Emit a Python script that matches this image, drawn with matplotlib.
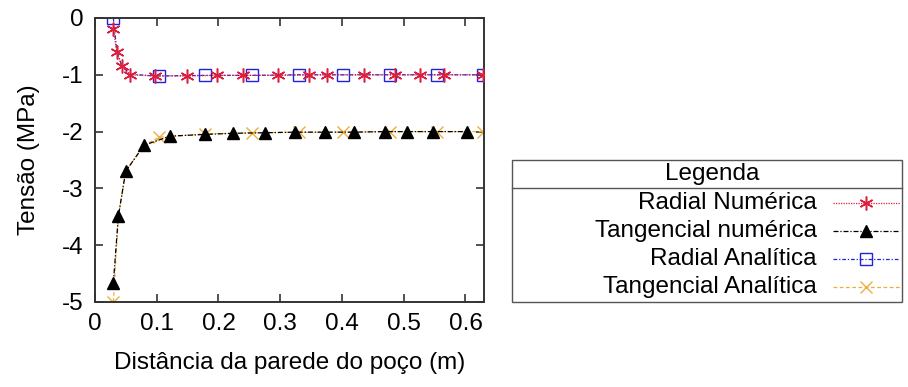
import numpy as np
import matplotlib
matplotlib.use("Agg")
import matplotlib.pyplot as plt
from matplotlib.lines import Line2D
from matplotlib.patches import Rectangle

plt.rcParams['font.family'] = ['Liberation Sans', 'DejaVu Sans']
plt.rcParams['axes.unicode_minus'] = False

# Radial numérica (red stars)
rad_num_x = [0.0297, 0.0352, 0.0433, 0.0567, 0.0972, 0.149, 0.197, 0.240, 0.297,
             0.346, 0.375, 0.435, 0.486, 0.527, 0.565, 0.629]
rad_num_y = [-0.19, -0.59, -0.85, -1.00, -1.02, -1.02, -1.01, -1.01, -1.01,
             -1.00, -1.00, -1.00, -1.00, -1.00, -1.00, -1.00]

# Tangencial numérica (black triangles)
tan_num_x = [0.0297, 0.0378, 0.0497, 0.0794, 0.1216, 0.178, 0.224, 0.276, 0.324,
             0.373, 0.419, 0.470, 0.505, 0.548, 0.602]
tan_num_y = [-4.67, -3.49, -2.70, -2.24, -2.08, -2.05, -2.03, -2.02, -2.01,
             -2.01, -2.01, -2.00, -2.00, -2.00, -2.00]

# Radial analítica (blue squares), curve points and marker points
rad_ana_x = [0.0297, 0.0352, 0.0433, 0.0567, 0.0972, 0.104, 0.178, 0.255, 0.330,
             0.402, 0.478, 0.554, 0.628]
rad_ana_y = [0.0, -0.57, -0.84, -0.99, -1.02, -1.02, -1.01, -1.01, -1.00,
             -1.00, -1.00, -1.00, -1.00]
rad_ana_marks = [0, 5, 6, 7, 8, 9, 10, 11, 12]

# Tangencial analítica (orange crosses)
tan_ana_x = [0.0297, 0.0378, 0.0497, 0.0794, 0.104, 0.178, 0.255, 0.330, 0.402,
             0.478, 0.554, 0.628]
tan_ana_y = [-5.00, -3.50, -2.70, -2.24, -2.10, -2.04, -2.02, -2.01, -2.01,
             -2.00, -2.00, -2.00]
tan_ana_marks = [0, 4, 5, 6, 7, 8, 9, 10, 11]

xticks = [0, 0.1, 0.2, 0.3, 0.4, 0.5, 0.6]
xticklabels = ['0', '0.1', '0.2', '0.3', '0.4', '0.5', '0.6']
yticks = [0, -1, -2, -3, -4, -5]
yticklabels = ['0', '-1', '-2', '-3', '-4', '-5']

labels = ['Radial Numérica', 'Tangencial numérica', 'Radial Analítica', 'Tangencial Analítica']

styles = [
    dict(color='#dc1f3c', linestyle=(0, (1, 1)), linewidth=0.9,
         marker=(6, 2, 0), markersize=10, markeredgewidth=1.1),
    dict(color='black', linestyle=(0, (4, 1.5, 1, 1.5)), linewidth=0.9,
         marker='^', markersize=9),
    dict(color='#2222dd', linestyle=(0, (3, 1.5, 1, 1.5)), linewidth=0.9,
         marker='s', markersize=8.5, markerfacecolor='none', markeredgewidth=1.0),
    dict(color='#eeae3a', linestyle=(0, (3, 2)), linewidth=0.9,
         marker='x', markersize=8.5, markeredgewidth=1.0),
]

FS = 17.5
W, H = 908, 387
fig = plt.figure(figsize=(W / 100, H / 100), dpi=100)
ax = fig.add_axes([95 / W, 1 - 302 / H, (484 - 95) / W, (302 - 18) / H])

ax.plot(tan_ana_x, tan_ana_y, markevery=tan_ana_marks, zorder=2, **styles[3])
ax.plot(tan_num_x, tan_num_y, zorder=3, **styles[1])
ax.plot(rad_ana_x, rad_ana_y, markevery=rad_ana_marks, zorder=2, **styles[2])
ax.plot(rad_num_x, rad_num_y, zorder=3, **styles[0])

ax.set_xlim(0, 0.63)
ax.set_ylim(-5, 0)
ax.set_xticks(xticks)
ax.set_xticklabels(xticklabels)
ax.set_yticks(yticks)
ax.set_yticklabels(yticklabels)
ax.tick_params(direction='in', length=6, width=1.2, top=True, right=True,
               labelsize=FS, pad=8, color='#333333')
for s in ax.spines.values():
    s.set_linewidth(1.4)
    s.set_color('#333333')

ax.set_xlabel('Distância da parede do poço (m)', fontsize=FS, labelpad=12)
ax.set_ylabel('Tensão (MPa)', fontsize=FS, labelpad=16)

# legend box drawn in figure pixels
def fx(x):
    return x / W

def fy(y):
    return 1 - y / H

fig.add_artist(Rectangle((fx(512), fy(302)), fx(902) - fx(512), fy(160) - fy(302),
                         transform=fig.transFigure, fill=False,
                         edgecolor='#555555', linewidth=1.0))
fig.add_artist(Line2D([fx(512), fx(902)], [fy(188), fy(188)],
                      transform=fig.transFigure, color='#555555', linewidth=1.0))
fig.text(fx(712), fy(174), 'Legenda', fontsize=FS, ha='center', va='center')

rows = [203, 231, 259, 287]
for lab, st, ry in zip(labels, styles, rows):
    fig.text(fx(817), fy(ry), lab, fontsize=FS, ha='right', va='center')
    fig.add_artist(Line2D([fx(833), fx(900)], [fy(ry), fy(ry)],
                          transform=fig.transFigure,
                          **{k: v for k, v in st.items() if not k.startswith('marker')}))
    fig.add_artist(Line2D([fx(866)], [fy(ry)], transform=fig.transFigure,
                          linestyle='none', color=st['color'],
                          **{k: v for k, v in st.items() if k.startswith('marker')}))

fig.savefig('out.png', dpi=100)
